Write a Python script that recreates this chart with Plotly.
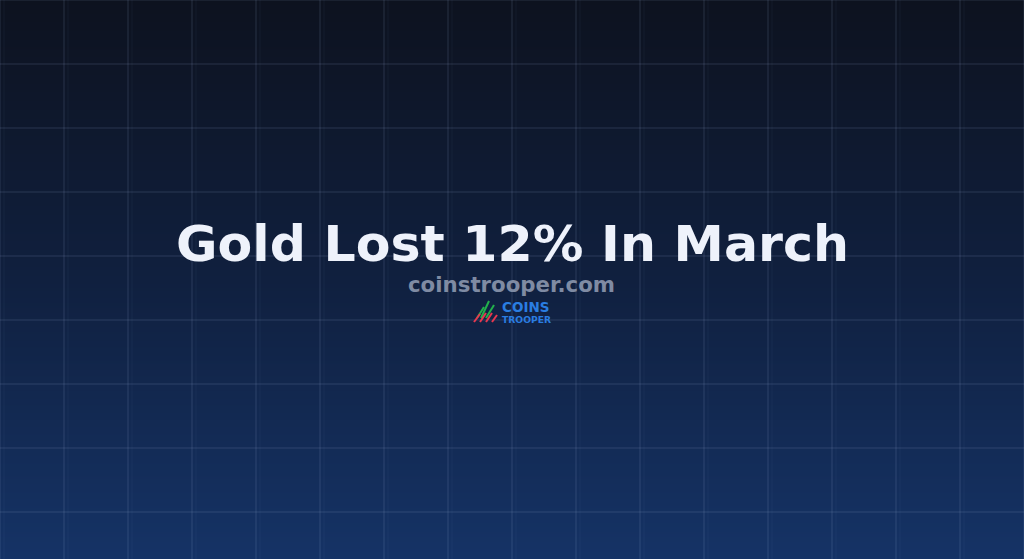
"""
Title card: Gold Lost 12% In March
"""

import plotly.graph_objects as go

W, H = 1024, 559

TITLE = "Gold Lost 12% In March"
SUBTITLE = "coinstrooper.com"
LOGO_TOP = "COINS"
LOGO_BOTTOM = "TROOPER"

# background gradient stops (top -> bottom)
GRADIENT_ROWS = [0, 1, 2]
GRADIENT_COLORS = ["#0d121f", "#10203f", "#153366"]

GRID_STEP = 64
FONT = "DejaVu Sans"

fig = go.Figure()

# background gradient as a smooth heatmap
fig.add_trace(go.Heatmap(
    x=[0, W],
    y=[0, H / 2, H],
    z=[[r, r] for r in GRADIENT_ROWS],
    colorscale=[[0, GRADIENT_COLORS[0]], [0.5, GRADIENT_COLORS[1]], [1, GRADIENT_COLORS[2]]],
    zsmooth="best",
    showscale=False,
    hoverinfo="skip",
))

# grid overlay (shapes so it sits over the gradient)
for gx in range(0, W + 1, GRID_STEP):
    fig.add_shape(type="line", x0=gx, x1=gx, y0=0, y1=H, layer="above",
                  line=dict(color="rgba(150,170,215,0.2)", width=1))
    fig.add_shape(type="line", x0=gx + 4, x1=gx + 4, y0=0, y1=H, layer="above",
                  line=dict(color="rgba(150,170,215,0.06)", width=1))
for gy in range(0, H + 1, GRID_STEP):
    fig.add_shape(type="line", x0=0, x1=W, y0=gy, y1=gy, layer="above",
                  line=dict(color="rgba(150,170,215,0.2)", width=1))

# title + subtitle
fig.add_annotation(x=W / 2, y=243, text=f"<b>{TITLE}</b>", showarrow=False,
                   font=dict(family=FONT, size=50.6, color="#eef2fb"), xanchor="center", yanchor="middle")
fig.add_annotation(x=W / 2 - 1, y=284, text=f"<b>{SUBTITLE}</b>", showarrow=False,
                   font=dict(family=FONT, size=21.3, color="#7f8ba3"), xanchor="center", yanchor="middle")

# small logo: candle-like strokes + wordmark
greens = [(477, 318, 484, 307), (481, 318, 489, 301), (486, 318, 494, 305)]
reds = [(474, 322, 480, 314), (480, 322, 486, 313), (486, 322, 492, 313), (492, 322, 497, 315)]
for x0, y0, x1, y1 in greens:
    fig.add_shape(type="line", x0=x0, y0=y0, x1=x1, y1=y1, layer="above",
                  line=dict(color="#22b14c", width=2))
for x0, y0, x1, y1 in reds:
    fig.add_shape(type="line", x0=x0, y0=y0, x1=x1, y1=y1, layer="above",
                  line=dict(color="#e8384f", width=2))
fig.add_annotation(x=500, y=307, text=f"<b>{LOGO_TOP}</b>", showarrow=False,
                   font=dict(family=FONT, size=13.5, color="#2a7de1"), xanchor="left", yanchor="middle")
fig.add_annotation(x=500, y=319, text=f"<b>{LOGO_BOTTOM}</b>", showarrow=False,
                   font=dict(family=FONT, size=9.2, color="#2a7de1"), xanchor="left", yanchor="middle")

axis = dict(showgrid=False, zeroline=False, showticklabels=False, ticks="", fixedrange=True)

fig.update_layout(
    width=W, height=H,
    margin=dict(l=0, r=0, t=0, b=0),
    paper_bgcolor="#0d121f",
    plot_bgcolor="#0d121f",
    xaxis=dict(range=[0, W], **axis),
    yaxis=dict(range=[H, 0], **axis),
    showlegend=False,
)

fig.write_html("out.html", config={"displayModeBar": False},
               post_script="document.body.style.margin='0';document.body.style.overflow='hidden';")
